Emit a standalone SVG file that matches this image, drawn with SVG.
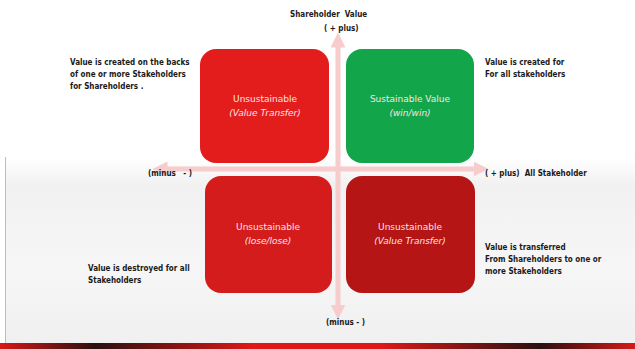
<svg xmlns="http://www.w3.org/2000/svg" width="635" height="349" viewBox="0 0 635 349">
<defs>
<style>
text{white-space:pre}
.lbl{font-family:"DejaVu Sans Condensed","Liberation Sans",sans-serif;font-size:8px;font-weight:bold;fill:#1a1a1a}
.bt{font-family:"DejaVu Sans","Liberation Sans",sans-serif;font-size:9px;fill:#fbe3e3;text-anchor:middle}
.it{font-style:italic}
.ax{stroke:#f6cccc;stroke-width:5;fill:none}
</style>
<marker id="ah" viewBox="0 0 10 10" refX="5" refY="5" markerWidth="3" markerHeight="3" orient="auto-start-reverse">
<path d="M0,0 L10,5 L0,10 z" fill="#f6cccc"/>
</marker>
<linearGradient id="bg" x1="0" y1="0" x2="0" y2="1">
<stop offset="0" stop-color="#ffffff"/>
<stop offset="0.15" stop-color="#f1f1f1"/>
<stop offset="0.6" stop-color="#f6f6f6"/>
<stop offset="1" stop-color="#f0f0f0"/>
</linearGradient>
<linearGradient id="band" x1="0" y1="0" x2="1" y2="0">
<stop offset="0" stop-color="#d81818"/>
<stop offset="0.15" stop-color="#2a1010"/>
<stop offset="0.4" stop-color="#e01818"/>
<stop offset="0.6" stop-color="#e01818"/>
<stop offset="0.85" stop-color="#2a1010"/>
<stop offset="1" stop-color="#d81818"/>
</linearGradient>
</defs>
<rect x="0" y="0" width="635" height="349" fill="#ffffff"/>
<rect x="5" y="157" width="630" height="186" fill="url(#bg)"/>
<line x1="5.5" y1="157" x2="5.5" y2="343" stroke="#bdbdbd" stroke-width="1"/>
<rect x="0" y="343" width="635" height="6" fill="url(#band)"/>
<g id="connectors">
<line class="ax" x1="338" y1="312" x2="338" y2="40" marker-start="url(#ah)" marker-end="url(#ah)"/>
<line class="ax" x1="160" y1="169" x2="481" y2="169" marker-start="url(#ah)" marker-end="url(#ah)"/>
</g>
<g id="q-top-left">
<rect x="200" y="49" width="129" height="114" rx="16" fill="#e31c1c"/>
<text class="bt" x="265" y="102">Unsustainable</text>
<text class="bt it" x="265" y="116">(Value Transfer)</text>
</g>
<g id="q-top-right">
<rect x="346" y="49" width="128" height="114" rx="16" fill="#13a54a"/>
<text class="bt" x="410" y="102">Sustainable Value</text>
<text class="bt it" x="410" y="116">(win/win)</text>
</g>
<g id="q-bottom-left">
<rect x="205" y="176" width="127" height="117" rx="16" fill="#d41c1c"/>
<text class="bt" x="268" y="230">Unsustainable</text>
<text class="bt it" x="268" y="244">(lose/lose)</text>
</g>
<g id="q-bottom-right">
<rect x="346" y="176" width="129" height="117" rx="16" fill="#b51515"/>
<text class="bt" x="410" y="230">Unsustainable</text>
<text class="bt it" x="410" y="244">(Value Transfer)</text>
</g>
<g id="labels" xml:space="preserve">
<text class="lbl" x="290" y="17">Shareholder  Value</text>
<text class="lbl" x="324" y="31">( + plus)</text>
<text class="lbl" x="70" y="65">Value is created on the backs</text>
<text class="lbl" x="70" y="77">of one or more Stakeholders</text>
<text class="lbl" x="70" y="89">for Shareholders .</text>
<text class="lbl" x="485" y="65">Value is created for</text>
<text class="lbl" x="485" y="77">For all stakeholders</text>
<text class="lbl" x="148" y="176">(minus   - )</text>
<text class="lbl" x="485" y="176">( + plus)  All Stakeholder</text>
<text class="lbl" x="485" y="250">Value is transferred</text>
<text class="lbl" x="485" y="262">From Shareholders to one or</text>
<text class="lbl" x="485" y="274">more Stakeholders</text>
<text class="lbl" x="88" y="271">Value is destroyed for all</text>
<text class="lbl" x="88" y="283">Stakeholders</text>
<text class="lbl" x="326" y="325">(minus - )</text>
</g>
</svg>
